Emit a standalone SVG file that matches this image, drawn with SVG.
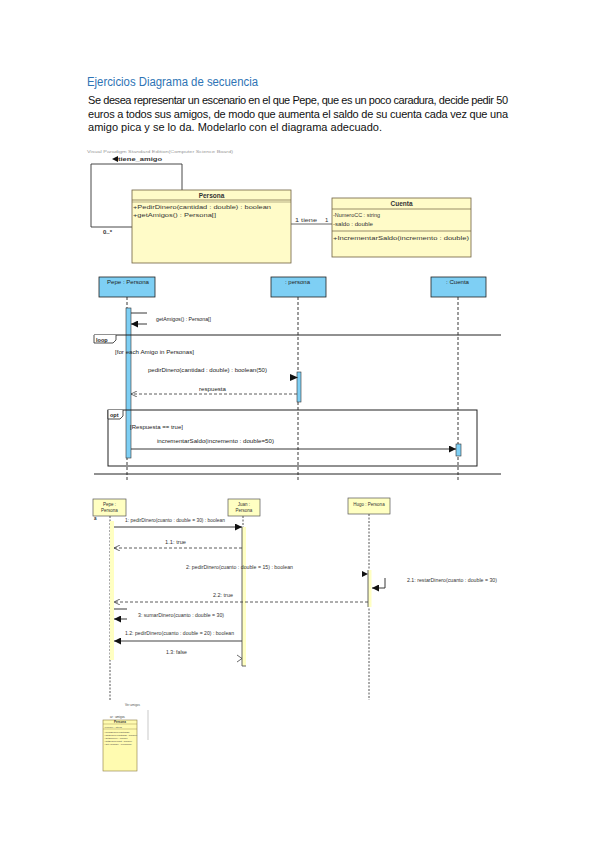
<svg xmlns="http://www.w3.org/2000/svg" width="599" height="848" viewBox="0 0 599 848">
<style>
text{font-family:"Liberation Sans",Arial,sans-serif;fill:#222}
.para{font-size:11px;fill:#111}
.cls{fill:#FFFBC8;stroke:#6E6040;stroke-width:0.8}
.ct{font-size:6px;fill:#333}
.bh{fill:#7ECFF4;stroke:#222;stroke-width:0.8}
.ba{fill:#7ECFF4;stroke:#333;stroke-width:0.6}
.st{font-size:5.5px;fill:#222}
.yh{fill:#FFFFC2;stroke:#555;stroke-width:0.7}
.ya{fill:#FFFFC2}
.yt{font-size:4.5px;fill:#333}
.ll{stroke:#222;stroke-width:0.9;stroke-dasharray:3,2;fill:none}
.ll2{stroke:#555;stroke-width:1;stroke-dasharray:2,1.5;fill:none}
.msg{stroke:#222;stroke-width:0.9;fill:none}
.ret{stroke:#333;stroke-width:0.8;stroke-dasharray:3,2;fill:none}
.frame{stroke:#222;stroke-width:1;fill:none}
</style>
<defs>
<marker id="fa" viewBox="0 0 10 10" refX="10" refY="5" markerWidth="7" markerHeight="7" markerUnits="userSpaceOnUse" orient="auto"><path d="M0,0L10,5L0,10z" fill="#111"/></marker>
<marker id="oa" viewBox="0 0 10 10" refX="10" refY="5" markerWidth="6" markerHeight="6" markerUnits="userSpaceOnUse" orient="auto"><path d="M0,0L10,5L0,10" fill="none" stroke="#333" stroke-width="1.2"/></marker>
</defs>
<rect width="599" height="848" fill="#fff"/>

<text x="87" y="86" font-family="Open Sans, Liberation Sans, sans-serif" font-size="12.5" style="fill:#2E74B5" textLength="171" lengthAdjust="spacingAndGlyphs">Ejercicios Diagrama de secuencia</text>
<text class="para" x="88" y="104" textLength="420" lengthAdjust="spacing">Se desea representar un escenario en el que Pepe, que es un poco caradura, decide pedir 50</text>
<text class="para" x="88" y="118" textLength="420" lengthAdjust="spacing">euros a todos sus amigos, de modo que aumenta el saldo de su cuenta cada vez que una</text>
<text class="para" x="88" y="131" textLength="294" lengthAdjust="spacing">amigo pica y se lo da.  Modelarlo con el diagrama adecuado.</text>

<!-- Class diagram -->
<text x="87" y="153" font-size="4" style="fill:#999" textLength="146" lengthAdjust="spacingAndGlyphs">Visual Paradigm Standard Edition(Computer Science Board)</text>
<g id="connectors-class">
<path d="M182,190 V164 H91 V227 H132" fill="none" stroke="#333" stroke-width="0.9"/>
<path d="M118,156 L112,159 L118,162z" fill="#111"/>
<text x="118" y="161" font-size="6" font-weight="bold" style="fill:#333" textLength="44" lengthAdjust="spacingAndGlyphs">tiene_amigo</text>
<text x="103" y="234" font-size="6" font-weight="bold" style="fill:#333">0..*</text>
<line x1="291" y1="224" x2="332" y2="224" stroke="#555" stroke-width="0.9"/>
<text x="295" y="222" class="ct" textLength="22" lengthAdjust="spacingAndGlyphs">1 tiene</text>
<text x="325" y="222" class="ct">1</text>
</g>
<g id="Persona">
<rect class="cls" x="132" y="190" width="159" height="73"/>
<line x1="132" y1="200" x2="291" y2="200" stroke="#6E6040" stroke-width="0.7"/>
<line x1="132" y1="202" x2="291" y2="202" stroke="#6E6040" stroke-width="0.5"/>
<text x="211.5" y="198" font-size="6.5" font-weight="bold" text-anchor="middle" style="fill:#333">Persona</text>
<text x="133" y="209" class="ct" textLength="138" lengthAdjust="spacingAndGlyphs">+PedirDinero(cantidad : double) : boolean</text>
<text x="133" y="217" class="ct" textLength="83" lengthAdjust="spacingAndGlyphs">+getAmigos() : Persona[]</text>
</g>
<g id="Cuenta">
<rect class="cls" x="332" y="198" width="139" height="59"/>
<line x1="332" y1="209" x2="471" y2="209" stroke="#6E6040" stroke-width="0.7"/>
<line x1="332" y1="231" x2="471" y2="231" stroke="#6E6040" stroke-width="0.7"/>
<text x="401.5" y="206" font-size="6.5" font-weight="bold" text-anchor="middle" style="fill:#333">Cuenta</text>
<text x="333" y="217" class="ct" textLength="47" lengthAdjust="spacingAndGlyphs">-NumeroCC : string</text>
<text x="333" y="226" class="ct" textLength="40" lengthAdjust="spacingAndGlyphs">-saldo : double</text>
<text x="333" y="240" class="ct" textLength="136" lengthAdjust="spacingAndGlyphs">+IncrementarSaldo(incremento : double)</text>
</g>

<!-- Sequence diagram 1 -->
<g id="seq1-lifelines">
<line class="ll" x1="127" y1="297" x2="127" y2="480"/>
<line class="ll" x1="298" y1="297" x2="298" y2="480"/>
<line class="ll" x1="458" y1="297" x2="458" y2="480"/>
</g>
<g id="PepePersona1">
<rect class="bh" x="99" y="277" width="56" height="20"/>
<text x="107" y="284" class="st" textLength="42" lengthAdjust="spacingAndGlyphs">Pepe : Persona</text>
</g>
<g id="persona1">
<rect class="bh" x="271" y="277" width="55" height="20"/>
<text x="285" y="284" class="st" textLength="25" lengthAdjust="spacingAndGlyphs">: persona</text>
</g>
<g id="Cuenta1">
<rect class="bh" x="431" y="277" width="55" height="20"/>
<text x="446" y="284" class="st" textLength="23" lengthAdjust="spacingAndGlyphs">: Cuenta</text>
</g>
<g id="seq1-activations">
<rect class="ba" x="126" y="308" width="5" height="150"/>
<rect class="ba" x="297" y="372" width="4" height="30"/>
<rect class="ba" x="456" y="444" width="5" height="12"/>
</g>
<g id="seq1-frames">
<line class="frame" x1="94" y1="335" x2="501" y2="335"/>
<path d="M94,335 V343 H113 L116,340 V335" fill="#fff" stroke="#222" stroke-width="0.8"/>
<text x="96" y="341.5" font-size="5.5" font-weight="bold" style="fill:#222">loop</text>
<text x="115" y="354" class="st" textLength="79" lengthAdjust="spacingAndGlyphs">[for each Amigo in Personas]</text>
<rect class="frame" x="108" y="410" width="369" height="56"/>
<path d="M108,410 V419 H120 L123,416 V410" fill="#fff" stroke="#222" stroke-width="0.8"/>
<text x="110" y="417" font-size="5.5" font-weight="bold" style="fill:#222">opt</text>
<text x="130" y="429" class="st" textLength="53" lengthAdjust="spacingAndGlyphs">[Respuesta == true]</text>
<line class="frame" x1="94" y1="474" x2="501" y2="474"/>
</g>
<g id="seq1-connectors">
<line class="msg" x1="131" y1="313" x2="147" y2="313"/>
<line class="msg" x1="147" y1="324" x2="131" y2="324" marker-end="url(#fa)"/>
<text x="156" y="321" class="st" textLength="55" lengthAdjust="spacingAndGlyphs">getAmigos() : Persona[]</text>
<text x="148" y="372" class="st" font-size="4.5" textLength="119" lengthAdjust="spacingAndGlyphs">pedirDinero(cantidad : double) : boolean(50)</text>
<path d="M290,374 L298,377.5 L290,381z" fill="#111"/>
<line class="ret" x1="297" y1="394" x2="131" y2="394" marker-end="url(#oa)"/>
<text x="199" y="391" class="st" font-size="4.5" textLength="27" lengthAdjust="spacingAndGlyphs">respuesta</text>
<text x="157" y="443" class="st" textLength="117" lengthAdjust="spacingAndGlyphs">incrementarSaldo(incremento : double=50)</text>
<line class="msg" x1="131" y1="449" x2="456" y2="449" marker-end="url(#fa)"/>
</g>

<!-- Sequence diagram 2 -->
<g id="seq2-lifelines">
<line class="ll2" x1="110" y1="516" x2="110" y2="700"/>
<line class="ll2" x1="243" y1="516" x2="243" y2="527"/>
<line class="ll2" x1="369" y1="514" x2="369" y2="700"/>
</g>
<g id="PepePersona2">
<rect class="yh" x="93" y="499" width="33" height="17"/>
<text x="109.5" y="506" class="yt" text-anchor="middle">Pepe :</text>
<text x="109.5" y="512" class="yt" text-anchor="middle">Persona</text>
<text x="94" y="520" font-size="4.5" font-weight="bold" style="fill:#333">a</text>
</g>
<g id="JuanPersona">
<rect class="yh" x="228" y="499" width="32" height="17"/>
<text x="244" y="506" class="yt" text-anchor="middle">Juan :</text>
<text x="244" y="512" class="yt" text-anchor="middle">Persona</text>
</g>
<g id="HugoPersona">
<rect class="yh" x="348" y="498" width="42" height="16"/>
<text x="369" y="506" class="yt" text-anchor="middle">Hugo : Persona</text>
</g>
<g id="seq2-activations">
<rect class="ya" x="110" y="521" width="4" height="139"/>
<rect class="ya" x="242" y="527" width="4" height="139"/>
<path d="M242,527 V666 H246" fill="none" stroke="#555" stroke-width="0.9"/>
<rect class="ya" x="368" y="570" width="3.5" height="37"/>
<path d="M368,570 V607" fill="none" stroke="#555" stroke-width="0.9"/>
</g>
<g id="seq2-connectors">
<text x="125" y="522" class="yt" textLength="100" lengthAdjust="spacingAndGlyphs">1: pedirDinero(cuanto : double = 30) : boolean</text>
<line class="msg" x1="114" y1="527" x2="242" y2="527" marker-end="url(#fa)"/>
<text x="165" y="544" class="yt" textLength="21" lengthAdjust="spacingAndGlyphs">1.1: true</text>
<line class="ret" x1="242" y1="548" x2="114" y2="548" marker-end="url(#oa)"/>
<text x="186" y="569" class="yt" textLength="107" lengthAdjust="spacingAndGlyphs">2: pedirDinero(cuanto : double = 15) : boolean</text>
<path d="M362,571 L368,574 L362,577z" fill="#111"/>
<path d="M385,578 V588 H372" fill="none" stroke="#222" stroke-width="0.9" marker-end="url(#fa)"/>
<text x="407" y="582" class="yt" textLength="90" lengthAdjust="spacingAndGlyphs">2.1: restarDinero(cuanto : double = 30)</text>
<text x="213" y="597" class="yt" textLength="20" lengthAdjust="spacingAndGlyphs">2.2: true</text>
<line class="ret" x1="368" y1="602" x2="114" y2="602" marker-end="url(#oa)"/>
<line class="msg" x1="114" y1="609" x2="127" y2="609"/>
<line class="msg" x1="127" y1="619" x2="114" y2="619" marker-end="url(#fa)"/>
<text x="138" y="617" class="yt" textLength="86" lengthAdjust="spacingAndGlyphs">3: sumarDinero(cuanto : double = 30)</text>
<text x="125" y="635" class="yt" textLength="109" lengthAdjust="spacingAndGlyphs">1.2: pedirDinero(cuanto : double = 20) : boolean</text>
<line x1="242" y1="641" x2="114" y2="641" stroke="#444" stroke-width="1.2" marker-end="url(#fa)"/>
<text x="166" y="654" class="yt" textLength="21" lengthAdjust="spacingAndGlyphs">1.3: false</text>
<path d="M237,655 L242,658.5 L237,662" fill="none" stroke="#444" stroke-width="0.8"/>
</g>

<!-- small diagram -->
<g id="small-diagram">
<text x="125" y="706" font-size="3" style="fill:#555">Ver amigos</text>
<line x1="148" y1="710" x2="148" y2="740" stroke="#bbb" stroke-width="0.8"/>
<text x="110" y="718" font-size="3" style="fill:#444">ar : amigos</text>
<rect x="103" y="720" width="34" height="51" fill="#FFFBB0" stroke="#8a7a40" stroke-width="0.6"/>
<line x1="103" y1="724" x2="137" y2="724" stroke="#8a7a40" stroke-width="0.4"/>
<line x1="103" y1="729" x2="137" y2="729" stroke="#8a7a40" stroke-width="0.4"/>
<text x="114" y="723" font-size="3" font-weight="bold" style="fill:#333">Persona</text>
<text x="104" y="727.5" font-size="2.5" style="fill:#555">-nombre : String</text>
<text x="104" y="733" font-size="2.5" style="fill:#444">+pedirDinero(cantidad)</text>
<text x="104" y="736" font-size="2.5" style="fill:#444">+darDinero(cantidad : double)</text>
<text x="104" y="739" font-size="2.5" style="fill:#444">+getDinero() : double</text>
<text x="104" y="742" font-size="2.5" style="fill:#444">+setDinero(cant : double)</text>
<text x="104" y="745" font-size="2.5" style="fill:#444">+getAmigos() : Persona[]</text>
</g>
</svg>
